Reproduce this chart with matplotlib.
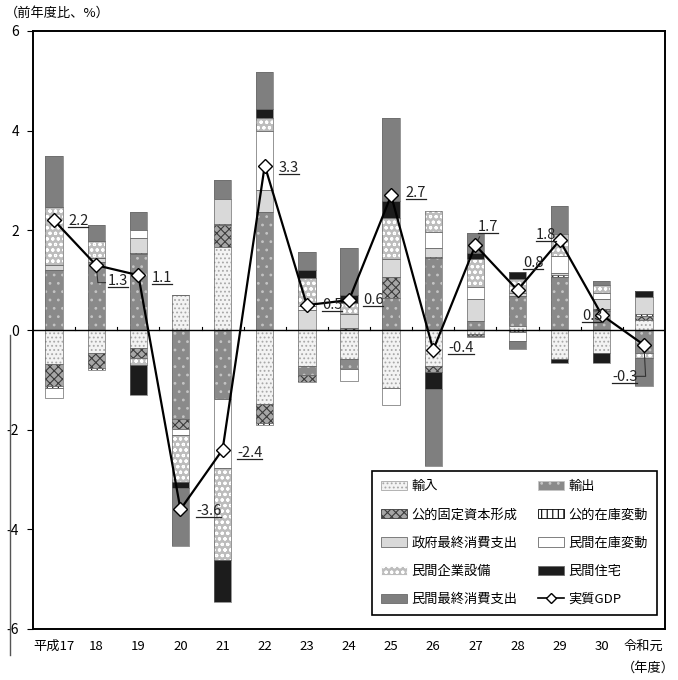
import numpy as np
import matplotlib
matplotlib.use("Agg")
import matplotlib.pyplot as plt
from matplotlib.patches import Patch
from matplotlib.lines import Line2D

plt.rcParams['font.family'] = ['Noto Sans CJK JP', 'DejaVu Sans']
plt.rcParams['hatch.linewidth'] = 0.8

# --- data: contributions to real GDP growth (percentage points) ---
years = ["平成17", "18", "19", "20", "21", "22", "23", "24", "25", "26",
         "27", "28", "29", "30", "令和元"]

imports      = [-0.68, -0.46, -0.36, 0.71, 1.66, -1.48, -0.73, -0.58, -1.16, -0.73, -0.08, 0.08, -0.59, -0.46, 0.20]
exports      = [1.21, 1.36, 1.52, -1.78, -1.38, 2.37, -0.18, -0.20, 0.65, 1.45, 0.18, 0.60, 1.07, 0.38, -0.47]
public_inv   = [-0.45, -0.30, -0.21, -0.20, 0.44, -0.38, -0.14, 0.05, 0.41, -0.12, -0.04, -0.04, 0.00, 0.04, 0.09]
public_stock = [-0.03, -0.05, 0.03, 0.00, 0.03, -0.04, 0.00, 0.00, 0.00, 0.02, -0.03, 0.00, 0.03, 0.00, 0.03]
gov_cons     = [0.09, 0.08, 0.29, 0.00, 0.49, 0.43, 0.41, 0.28, 0.36, 0.18, 0.45, 0.07, 0.04, 0.21, 0.35]
priv_stock   = [-0.20, 0.00, 0.17, -0.13, -1.39, 1.19, 0.07, -0.25, -0.35, 0.31, 0.24, -0.18, 0.34, 0.12, 0.00]
priv_capex   = [1.16, 0.34, -0.13, -0.95, -1.84, 0.27, 0.57, 0.22, 0.83, 0.43, 0.55, 0.28, 0.45, 0.16, -0.09]
priv_housing = [0.00, 0.00, -0.61, -0.11, -0.84, 0.17, 0.15, 0.16, 0.34, -0.33, 0.12, 0.14, -0.07, -0.21, 0.11]
priv_cons    = [1.04, 0.33, 0.36, -1.16, 0.40, 0.75, 0.37, 0.93, 1.67, -1.54, 0.40, -0.17, 0.55, 0.07, -0.57]
real_gdp     = [2.2, 1.3, 1.1, -3.6, -2.4, 3.3, 0.5, 0.6, 2.7, -0.4, 1.7, 0.8, 1.8, 0.3, -0.3]

# series in stacking order: (label, values, face colour, hatch colour, hatch)
series = [
    ("輸入",             imports,      "#f3f3f3", "#a8a8a8", "...."),
    ("輸出",             exports,      "#8a8a8a", "#c4c4c4", ".."),
    ("公的固定資本形成", public_inv,   "#a6a6a6", "#3c3c3c", "xxxx"),
    ("公的在庫変動",     public_stock, "#ffffff", "#000000", "|||"),
    ("政府最終消費支出", gov_cons,     "#d9d9d9", "#707070", None),
    ("民間在庫変動",     priv_stock,   "#ffffff", "#707070", None),
    ("民間企業設備",     priv_capex,   "#bdbdbd", "#ffffff", "ooo"),
    ("民間住宅",         priv_housing, "#1c1c1c", "#1c1c1c", None),
    ("民間最終消費支出", priv_cons,    "#7f7f7f", "#7f7f7f", None),
]

fig = plt.figure(figsize=(6.78, 6.80), dpi=100)
ax = fig.add_axes([33 / 678, 1 - 629 / 680, 632 / 678, 598 / 680])

x = np.arange(len(years))
width = 0.41
pos_base = np.zeros(len(years))
neg_base = np.zeros(len(years))
for name, vals, face, hcol, hatch in series:
    v = np.array(vals, dtype=float)
    bottom = np.where(v >= 0, pos_base, neg_base)
    ax.bar(x, v, width, bottom=bottom, facecolor=face, edgecolor=hcol,
           hatch=hatch, linewidth=0, zorder=2)
    ax.bar(x, v, width, bottom=bottom, fill=False, edgecolor="#6a6a6a",
           linewidth=0.5, zorder=2.1)
    pos_base += np.clip(v, 0, None)
    neg_base += np.clip(v, None, 0)

# zero line with category-boundary ticks
ax.axhline(0, color="black", linewidth=1.0, zorder=3)
for b in np.arange(0.5, len(years) - 0.5, 1.0):
    ax.plot([b, b], [0, 0.07], color="black", linewidth=0.8, zorder=3)

# real GDP line
ax.plot(x, real_gdp, color="black", linewidth=1.6, marker="D", markersize=7.5,
        markerfacecolor="white", markeredgecolor="black", markeredgewidth=1.0,
        zorder=5)

ax.set_xlim(-0.5, len(years) - 0.5)
ax.set_ylim(-6, 6)
ax.set_yticks([-6, -4, -2, 0, 2, 4, 6])
ax.set_yticklabels(["-6", "-4", "-2", "0", "2", "4", "6"], fontsize=10)
ax.set_xticks(x)
ax.set_xticklabels(years, fontsize=9.5)
ax.tick_params(axis="x", length=0, pad=8)
ax.tick_params(axis="y", length=4, width=0.8, direction="out", pad=6)
for s in ax.spines.values():
    s.set_linewidth(1.4)
    s.set_color("black")

# value labels (left edge x, centre y in data units)
label_pos = [(0.33, 2.18), (1.28, 0.99), (2.32, 1.05), (3.37, -3.64), (4.34, -2.46),
             (5.34, 3.26), (6.36, 0.51), (7.33, 0.61), (8.35, 2.74), (9.35, -0.37),
             (10.06, 2.06), (11.13, 1.34), (11.44, 1.90), (12.53, 0.29), (13.24, -0.95)]
texts = []
for (lx, ly), val in zip(label_pos, real_gdp):
    t = ax.text(lx, ly, f"{val:.1f}", ha="left", va="center", fontsize=10.5,
                color="#222222", zorder=6)
    texts.append(t)

# leader lines
leaders = [
    [(1.00, 1.30), (1.04, 0.95), (1.22, 0.95)],
    [(10.00, 1.70), (10.10, 1.87)],
    [(14.00, -0.30), (14.04, -0.93), (13.80, -0.93)],
]
for pts in leaders:
    px, py = zip(*pts)
    ax.plot(px, py, color="#333333", linewidth=0.8, zorder=4)

# legend
handles = []
for name, vals, face, hcol, hatch in series:
    if hatch:
        handles.append(Patch(facecolor=face, edgecolor=hcol, hatch=hatch,
                             linewidth=0.6, label=name))
    else:
        handles.append(Patch(facecolor=face, edgecolor="#6a6a6a",
                             linewidth=0.6, label=name))
gdp_handle = Line2D([], [], color="black", linewidth=1.2, marker="D",
                    markersize=5, markerfacecolor="white",
                    markeredgecolor="black", label="実質GDP")
order = [0, 2, 4, 6, 8, 1, 3, 5, 7]
legend_handles = [handles[i] for i in order] + [gdp_handle]
leg = ax.legend(handles=legend_handles, ncol=2, loc="lower left",
                bbox_to_anchor=(0.536, 0.023, 0.451, 0.235), mode="expand",
                borderaxespad=0, fontsize=9.5, frameon=True, fancybox=False,
                framealpha=1, edgecolor="black", handlelength=2.0,
                handleheight=0.7, labelspacing=1.15, handletextpad=0.3,
                borderpad=0.7, columnspacing=0.6)
leg.get_frame().set_linewidth(1.2)
leg.set_zorder(7)

fig.text(5 / 678, 1 - 13 / 680, "（前年度比、%）", fontsize=9.5, va="center", ha="left")
fig.text(675 / 678, 1 - 668 / 680, "（年度）", fontsize=9.5, va="center", ha="right")

# thin vertical rule at the far left
fig.add_artist(Line2D([10 / 678, 10 / 678], [1 - 335 / 680, 1 - 655 / 680],
                      color="#555555", linewidth=1.0))

# underline each value label
fig.canvas.draw()
renderer = fig.canvas.get_renderer()
inv = fig.transFigure.inverted()
for t in texts:
    bb = t.get_window_extent(renderer)
    (x0, y0), (x1, _) = inv.transform([(bb.x0, bb.y0 + 1), (bb.x1, bb.y0 + 1)])
    fig.add_artist(Line2D([x0, x1], [y0, y0], color="#222222", linewidth=0.9))

fig.savefig("out.png", dpi=100)
